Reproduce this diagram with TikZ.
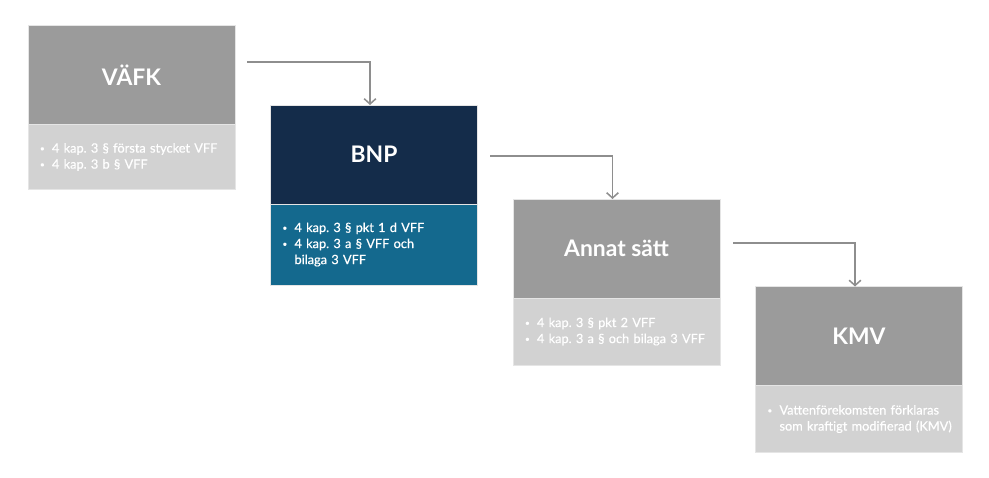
\documentclass[tikz,border=0pt]{standalone}
\usepackage{fontspec}
\setmainfont{Lato}
\usetikzlibrary{positioning,arrows.meta}

\definecolor{grau}{HTML}{9B9B9B}
\definecolor{hellgrau}{HTML}{D2D2D2}
\definecolor{marin}{HTML}{142C4A}
\definecolor{petrol}{HTML}{14698E}
\definecolor{pil}{HTML}{8E8E8E}

\frenchspacing
\newcommand{\punkt}{\makebox[0.36cm][l]{\raisebox{0.2ex}{\scriptsize\textbullet}}}
\newcommand{\indrag}{\hspace*{0.36cm}}

\tikzset{
  rubrik/.style={fill=#1, draw=black!10, line width=0.5pt, minimum width=6.21cm,
    minimum height=2.97cm, inner sep=0pt, outer sep=0pt, text=white,
    font=\fontsize{19.5}{22}\selectfont\bfseries},
  lista/.style={fill=#1, draw=black!10, line width=0.5pt, text width=5.49cm,
    align=left, inner xsep=0.36cm, inner ysep=0pt, outer sep=0pt, text=white,
    font=\fontsize{10.9}{13.7}\selectfont\addfontfeature{FakeBold=0.6}},
  pilen/.style={draw=pil, line width=1.3pt, -{Straight Barb[length=4.5pt,width=10pt]}}
}

\begin{document}
\begin{tikzpicture}[x=0.03cm, y=-0.03cm]
			\useasboundingbox (0,0) rectangle (989,477);
			% the four steps
			\node[rubrik=grau] (vafk) at (131.5,75) {VÄFK};
			\node[lista=hellgrau, minimum height=1.95cm, below=0pt of vafk] (vafkl)
				{\punkt 4 kap. 3 § första stycket VFF\\ \punkt 4 kap. 3 b § VFF};
			\node[rubrik=marin] (bnp) at (374,154.5) {BNP};
			\node[lista=petrol, minimum height=2.43cm, below=0pt of bnp] (bnpl)
				{\punkt 4 kap. 3 § pkt 1 d VFF\\ \punkt 4 kap. 3 a § VFF och\\ \indrag bilaga 3 VFF};
			\node[rubrik=grau] (annat) at (616.5,248.5) {Annat sätt};
			\node[lista=hellgrau, minimum height=2.01cm, below=0pt of annat] (annatl)
				{\punkt \mbox{4 kap. 3 § pkt 2 VFF}\\ \punkt \mbox{4 kap. 3 a § och bilaga 3 VFF}};
			\node[rubrik=grau] (kmv) at (859,336) {KMV};
			\node[lista=hellgrau, minimum height=2.01cm, below=0pt of kmv] (kmvl)
				{\punkt \mbox{Vattenförekomsten förklaras}\\ \indrag \mbox{som kraftigt modifierad (KMV)}};
			% arrows between the steps
			\coordinate (s1) at (247,62);
			\coordinate (s2) at (490,156);
			\coordinate (s3) at (733,243);
			\draw[pilen] (s1) -| ([xshift=-0.12cm]bnp.north);
			\draw[pilen] (s2) -| ([xshift=-0.12cm]annat.north);
			\draw[pilen] (s3) -| ([xshift=-0.12cm]kmv.north);
\end{tikzpicture}
\end{document}
